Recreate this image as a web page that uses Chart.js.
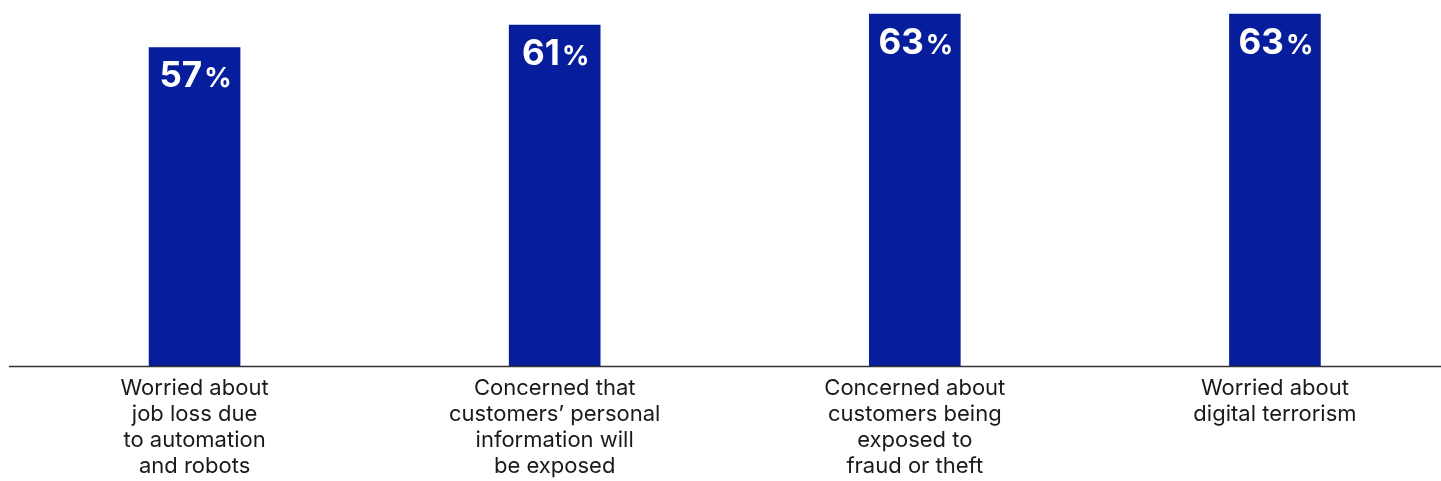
<!DOCTYPE html>
<html>
<head>
<meta charset="utf-8">
<script src="https://cdn.jsdelivr.net/npm/chart.js@4/dist/chart.umd.min.js"></script>
<style>
  html, body { margin: 0; padding: 0; background: #fff; overflow: hidden; }
  #wrap { width: 1455px; height: 481px; position: relative; }
</style>
</head>
<body>
<div id="wrap"><canvas id="chart"></canvas></div>
<script>
const categories = [
  ['Worried about', 'job loss due', 'to automation', 'and robots'],
  ['Concerned that', 'customers\u2019 personal', 'information will', 'be exposed'],
  ['Concerned about', 'customers being', 'exposed to', 'fraud or theft'],
  ['Worried about', 'digital terrorism']
]
const shares = [57, 61, 63, 63]

const BAR_BLUE = '#061e9b'
const FONT = 'Inter, "Open Sans", sans-serif'

// white value label near the top of each bar, percent sign set smaller
const valueLabels = {
  id: 'valueLabels',
  afterDatasetsDraw(chart) {
    const ctx = chart.ctx
    const meta = chart.getDatasetMeta(0)
    ctx.save()
    ctx.fillStyle = '#fff'
    ctx.textBaseline = 'alphabetic'
    meta.data.forEach((bar, i) => {
      const num = String(shares[i])
      ctx.font = 'bold 35px ' + FONT
      const wNum = ctx.measureText(num).width
      ctx.font = 'bold 27px ' + FONT
      const wPct = ctx.measureText('%').width
      const left = bar.x - (wNum + wPct) / 2
      const base = bar.y + 40
      ctx.font = 'bold 35px ' + FONT
      ctx.textAlign = 'left'
      ctx.fillText(num, left, base)
      ctx.font = 'bold 27px ' + FONT
      ctx.fillText('%', left + wNum + 2, base)
    })
    ctx.restore()
  }
}

// baseline across the full width at the zero value
const baseline = {
  id: 'baseline',
  afterDatasetsDraw(chart) {
    const ctx = chart.ctx
    const y = Math.round(chart.scales.y.getPixelForValue(0)) + 0.5
    ctx.save()
    ctx.strokeStyle = '#333'
    ctx.lineWidth = 1.5
    ctx.beginPath()
    ctx.moveTo(9, y)
    ctx.lineTo(1441, y)
    ctx.stroke()
    ctx.restore()
  }
}

new Chart(document.getElementById('chart'), {
  type: 'bar',
  data: {
    labels: categories,
    datasets: [{
      data: shares,
      backgroundColor: BAR_BLUE,
      borderWidth: 0,
      barThickness: 91
    }]
  },
  options: {
    responsive: true,
    maintainAspectRatio: false,
    animation: false,
    layout: { padding: { left: 14.5, right: 0, top: 0, bottom: 0 } },
    plugins: {
      legend: { display: false },
      tooltip: { enabled: false }
    },
    scales: {
      x: {
        grid: { display: false, drawTicks: false },
        border: { display: false },
        ticks: {
          color: '#1a1a1a',
          font: { family: FONT, size: 22, lineHeight: '26px' },
          padding: 9,
          maxRotation: 0,
          autoSkip: false
        },
        afterFit(scale) { scale.height = 115 }
      },
      y: {
        display: false,
        min: 0,
        max: 65.5
      }
    }
  },
  plugins: [valueLabels, baseline]
})
</script>
</body>
</html>
